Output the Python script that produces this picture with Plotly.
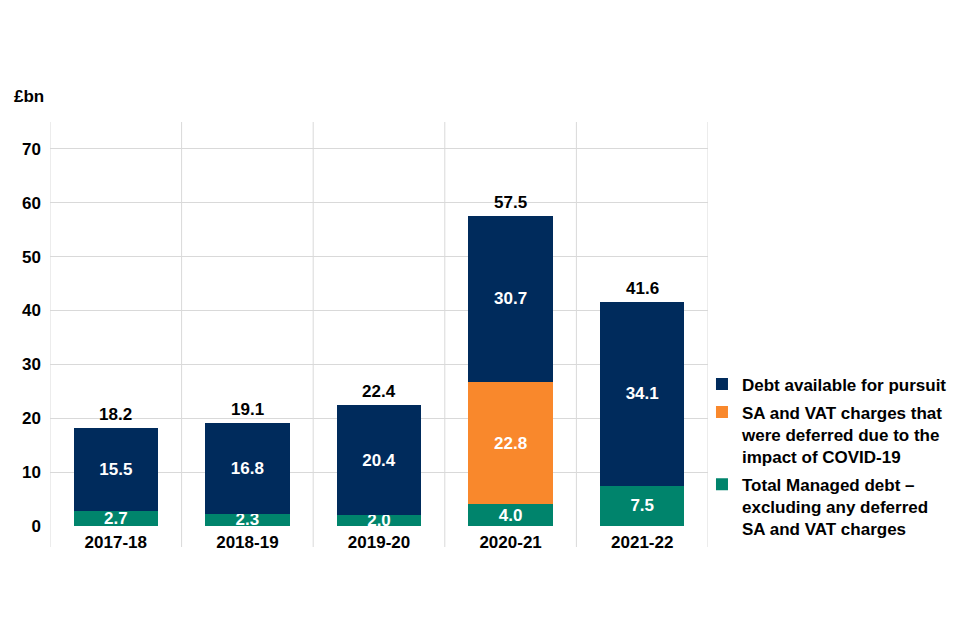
import plotly.graph_objects as go

years = ["2017-18", "2018-19", "2019-20", "2020-21", "2021-22"]
managed = [2.7, 2.3, 2.0, 4.0, 7.5]
deferred = [None, None, None, 22.8, None]
pursuit = [15.5, 16.8, 20.4, 30.7, 34.1]
totals = [18.2, 19.1, 22.4, 57.5, 41.6]
yticks = [0, 10, 20, 30, 40, 50, 60, 70]

FONT = "Liberation Sans, Arial, sans-serif"
FS = 17
NAVY = "#002B5C"
ORANGE = "#F9882C"
GREEN = "#00846C"

def fmt(vals):
    return [("" if v is None else f"{v:.1f}") for v in vals]

fig = go.Figure()
common = dict(textposition="inside", insidetextanchor="middle", textangle=0,
              constraintext="none",
              insidetextfont=dict(family=FONT, size=FS, color="white", weight="bold"),
              marker_line_width=0, width=0.64, cliponaxis=False)
fig.add_trace(go.Bar(x=years, y=managed, name="Total Managed debt –<br>excluding any deferred<br>SA and VAT charges",
                     marker_color=GREEN, text=fmt(managed), legendgroup="g3", legendrank=3, **common))
fig.add_trace(go.Bar(x=years, y=deferred, name="SA and VAT charges that<br>were deferred due to the<br>impact of COVID-19",
                     marker_color=ORANGE, text=fmt(deferred), legendgroup="g2", legendrank=2, **common))
fig.add_trace(go.Bar(x=years, y=pursuit, name="Debt available for pursuit",
                     marker_color=NAVY, text=fmt(pursuit), legendgroup="g1", legendrank=1, **common))

annotations = [dict(x=yr, y=t, xref="x", yref="y", text=f"{t:.1f}", showarrow=False,
                    xanchor="center", yanchor="bottom", yshift=2,
                    font=dict(family=FONT, size=FS, color="black", weight="bold"))
               for yr, t in zip(years, totals)]
annotations.append(dict(text="£bn", xref="paper", yref="paper", x=0.0042, y=1.064,
                        xanchor="left", yanchor="middle", showarrow=False,
                        font=dict(family=FONT, size=FS, color="black", weight="bold")))

shapes = []
for i in range(len(years) + 1):
    shapes.append(dict(type="line", xref="x", yref="paper", x0=i - 0.5, x1=i - 0.5,
                       y0=-0.052, y1=1, line=dict(color="#D9D9D9", width=1), layer="below"))

fig.update_layout(
    width=960, height=640,
    paper_bgcolor="white", plot_bgcolor="white",
    margin=dict(l=0, r=0, t=114, b=122),
    barmode="stack", bargap=0.36,
    font=dict(family=FONT, size=FS, color="black"),
    shapes=shapes,
    annotations=annotations,
    xaxis=dict(type="category", domain=[0.04375, 0.72917],
               showgrid=False, zeroline=False, showline=False, automargin=False,
               ticks="", ticklabelstandoff=4,
               tickfont=dict(family=FONT, size=FS, color="black", weight="bold"),
               range=[-0.5, 4.5]),
    yaxis=dict(range=[0, 75], tickvals=yticks, showgrid=True, gridcolor="#D9D9D9", gridwidth=1,
               zeroline=False, showline=False, ticks="", ticklabelstandoff=8, automargin=False,
               tickfont=dict(family=FONT, size=FS, color="black", weight="bold")),
    legend=dict(x=0.7229, xanchor="left", y=0.395, yanchor="top", traceorder="grouped",
                font=dict(family=FONT, size=FS, color="black", weight="bold"),
                valign="top", itemsizing="constant", tracegroupgap=3, bgcolor="rgba(0,0,0,0)"),
)

fig.write_html("out.html")
